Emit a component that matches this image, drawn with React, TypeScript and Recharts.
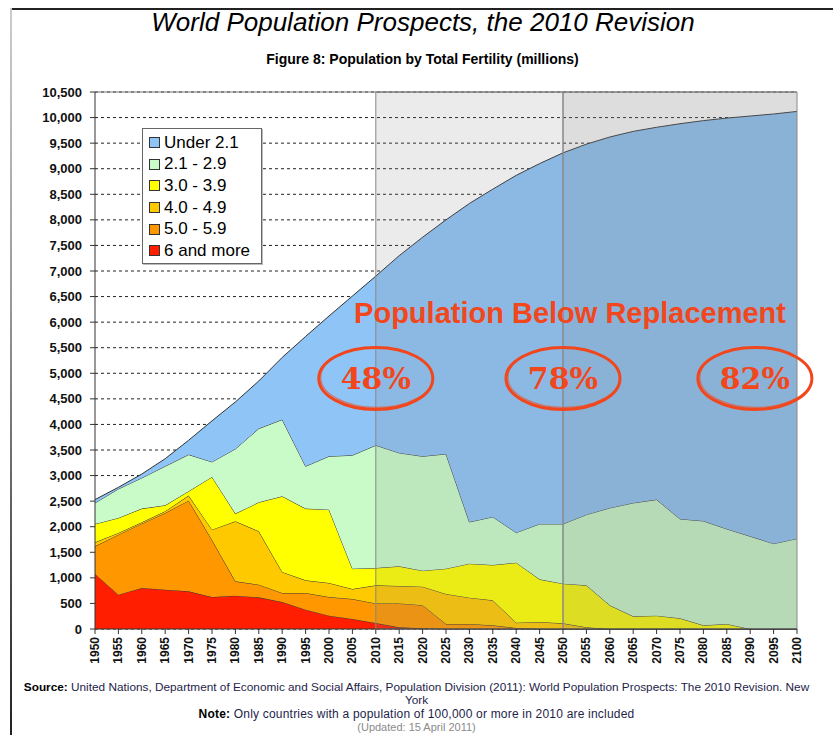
import React from "react";
import {
  AreaChart,
  Area,
  XAxis,
  YAxis,
  CartesianGrid,
  ReferenceArea,
  ReferenceLine,
  ReferenceDot,
  Legend,
} from "recharts";

// Years on the x axis
const years = [
  1950, 1955, 1960, 1965, 1970, 1975, 1980, 1985, 1990, 1995, 2000, 2005,
  2010, 2015, 2020, 2025, 2030, 2035, 2040, 2045, 2050, 2055, 2060, 2065,
  2070, 2075, 2080, 2085, 2090, 2095, 2100,
];

// Population (millions) by total fertility band
const sixAndMore = [
  1076, 672, 802, 769, 737, 626, 652, 619, 528, 378, 261, 196, 117, 33, 15, 0,
  0, 0, 0, 0, 0, 0, 0, 0, 0, 0, 0, 0, 0, 0, 0,
];
const fiveTo59 = [
  541, 1173, 1258, 1500, 1773, 1114, 280, 248, 176, 326, 365, 391, 383, 467,
  451, 98, 98, 72, 20, 0, 0, 0, 0, 0, 0, 0, 0, 0, 0, 0, 0,
];
const fourTo49 = [
  78, 33, 26, 33, 98, 203, 1174, 1043, 411, 248, 274, 195, 354, 341, 362, 587,
  515, 489, 104, 137, 111, 33, 0, 0, 0, 0, 0, 0, 0, 0, 0,
];
const threeTo39 = [
  359, 293, 268, 117, 85, 1030, 150, 568, 1480, 1402, 1434, 398, 339, 385, 313,
  495, 665, 691, 1173, 834, 776, 821, 463, 248, 261, 209, 72, 98, 0, 0, 0,
];
const twoTo29 = [
  411, 567, 600, 763, 717, 294, 1265, 1441, 1500, 828, 1043, 2217, 2399, 2217,
  2236, 2243, 815, 939, 587, 1083, 1167, 1382, 1904, 2217, 2269, 1943, 2040,
  1858, 1813, 1669, 1767,
];
const under21 = [
  65, 32, 76, 148, 280, 803, 919, 931, 1215, 2538, 2743, 3113, 3308, 3857,
  4283, 4577, 6227, 6409, 6986, 7046, 7256, 7244, 7253, 7265, 7280, 7728,
  7828, 8034, 8217, 8401, 8353,
];

const yTicks = [
  0, 500, 1000, 1500, 2000, 2500, 3000, 3500, 4000, 4500, 5000, 5500, 6000,
  6500, 7000, 7500, 8000, 8500, 9000, 9500, 10000, 10500,
];

// Callouts: share of population below replacement
const calloutYears = [2010, 2050, 2091];
const calloutLabels = ["48%", "78%", "82%"];

// stacked bottom to top
const series = [
  { key: "six", name: "6 and more", values: sixAndMore, color: "#FF1E00" },
  { key: "five", name: "5.0 - 5.9", values: fiveTo59, color: "#FF9700" },
  { key: "four", name: "4.0 - 4.9", values: fourTo49, color: "#FFC900" },
  { key: "three", name: "3.0 - 3.9", values: threeTo39, color: "#FFFF00" },
  { key: "two", name: "2.1 - 2.9", values: twoTo29, color: "#C9FBC9" },
  { key: "under", name: "Under 2.1", values: under21, color: "#8EC4F6" },
];

const data = years.map((year, i) => {
  const row: Record<string, number> = { year };
  series.forEach((s) => {
    row[s.key] = s.values[i];
  });
  return row;
});

const ARIAL = "Arial, 'Liberation Sans', sans-serif";
const RED = "#F2461C";

const XTick = (props: any) => {
  const { x, y, payload } = props;
  return (
    <text
      x={x}
      y={y}
      transform={`rotate(-90 ${x} ${y})`}
      textAnchor="end"
      dominantBaseline="central"
      fontFamily={ARIAL}
      fontWeight="bold"
      fontSize={12}
      fill="#111"
    >
      {payload.value}
    </text>
  );
};

const LegendBox = () => (
  <div
    style={{
      background: "#fff",
      border: "1px solid #666",
      boxShadow: "1px 1px 0 #bbb",
      padding: "3px 6px 1px 6px",
      fontFamily: ARIAL,
      fontSize: 17,
      color: "#000",
      width: 106,
    }}
  >
    {[...series].reverse().map((s) => (
      <div
        key={s.key}
        style={{ display: "flex", alignItems: "center", height: 21.6 }}
      >
        <span
          style={{
            display: "inline-block",
            width: 9,
            height: 9,
            background: s.color,
            border: "1px solid #333",
            marginRight: 4,
          }}
        />
        <span>{s.name}</span>
      </div>
    ))}
  </div>
);

const Callout = (label: string) => (props: any) => {
  const { cx, cy } = props;
  return (
    <g>
      <ellipse
        cx={cx}
        cy={cy}
        rx={57}
        ry={31}
        fill="none"
        stroke={RED}
        strokeWidth={3}
      />
      <ellipse
        cx={cx + 1}
        cy={cy - 1}
        rx={56}
        ry={30}
        fill="none"
        stroke={RED}
        strokeWidth={1.2}
        opacity={0.6}
      />
      <text
        x={cx}
        y={cy}
        textAnchor="middle"
        dominantBaseline="central"
        fontFamily="'DejaVu Serif', serif"
        fontWeight="bold"
        fontSize={30}
        fill={RED}
      >
        {label}
      </text>
    </g>
  );
};

const Heading = (props: any) => {
  const { cx, cy } = props;
  return (
    <text
      x={cx}
      y={cy}
      textAnchor="middle"
      dominantBaseline="central"
      fontFamily={ARIAL}
      fontWeight="bold"
      fontSize={29}
      fill={RED}
    >
      Population Below Replacement
    </text>
  );
};

export default function App() {
  return (
    <div
      style={{
        position: "absolute",
        left: 0,
        top: 0,
        width: 833,
        height: 735,
        overflow: "hidden",
        background: "#fff",
      }}
    >
      <AreaChart
        width={833}
        height={735}
        data={data}
        margin={{ top: 92, right: 36, left: 0, bottom: 66 }}
      >
        <CartesianGrid
          horizontal
          vertical={false}
          stroke="#222"
          strokeDasharray="3 3"
        />
        <XAxis
          dataKey="year"
          type="number"
          domain={[1950, 2100]}
          ticks={years}
          interval={0}
          height={40}
          tick={<XTick />}
          tickSize={5}
          tickMargin={3}
          stroke="#333"
        />
        <YAxis
          width={95}
          domain={[0, 10500]}
          ticks={yTicks}
          interval={0}
          tickSize={5}
          tickMargin={8}
          stroke="#333"
          tickFormatter={(v: number) => v.toLocaleString("en-US")}
          tick={{
            fontFamily: ARIAL,
            fontWeight: "bold",
            fontSize: 13,
            fill: "#111",
          }}
        />
        {series.map((s) => (
          <Area
            key={s.key}
            type="linear"
            dataKey={s.key}
            name={s.name}
            stackId="1"
            fill={s.color}
            fillOpacity={1}
            stroke="#333"
            strokeWidth={1}
            isAnimationActive={false}
          />
        ))}
        <ReferenceArea
          x1={2010}
          x2={2050}
          y1={0}
          y2={10500}
          fill="#808080"
          fillOpacity={0.16}
          stroke="#888"
          strokeWidth={1}
          zIndex={450}
        />
        <ReferenceArea
          x1={2050}
          x2={2100}
          y1={0}
          y2={10500}
          fill="#808080"
          fillOpacity={0.27}
          stroke="#888"
          strokeWidth={1}
          zIndex={450}
        />
        <ReferenceLine y={10500} stroke="#777" strokeWidth={1} zIndex={460} />
        <ReferenceDot
          x={2051.5}
          y={6180}
          r={0}
          ifOverflow="visible"
          shape={Heading}
          zIndex={2100}
        />
        {calloutYears.map((yr, i) => (
          <ReferenceDot
            key={yr}
            x={yr}
            y={4900}
            r={0}
            ifOverflow="visible"
            shape={Callout(calloutLabels[i])}
            zIndex={2100}
          />
        ))}
        <Legend
          layout="vertical"
          align="center"
          verticalAlign="middle"
          content={<LegendBox />}
          wrapperStyle={{ position: "absolute", left: 142, top: 128, width: 122 }}
        />
      </AreaChart>

      {/* page border */}
      <div
        style={{
          position: "absolute",
          left: 10,
          top: 8,
          width: 823,
          height: 2,
          background: "#222",
        }}
      />
      <div
        style={{
          position: "absolute",
          left: 10,
          top: 8,
          width: 2,
          height: 727,
          background: "linear-gradient(#ccc, #999 40%, #222)",
        }}
      />

      <div
        style={{
          position: "absolute",
          left: 0,
          top: 7,
          width: 846,
          textAlign: "center",
          fontFamily: ARIAL,
          fontStyle: "italic",
          fontSize: 26,
          color: "#000",
        }}
      >
        World Population Prospects, the 2010 Revision
      </div>
      <div
        style={{
          position: "absolute",
          left: 0,
          top: 51,
          width: 845,
          textAlign: "center",
          fontFamily: ARIAL,
          fontWeight: "bold",
          fontSize: 14,
          color: "#000",
        }}
      >
        Figure 8: Population by Total Fertility (millions)
      </div>

      <div
        style={{
          position: "absolute",
          left: 0,
          top: 681,
          width: 833,
          textAlign: "center",
          whiteSpace: "nowrap",
          fontFamily: ARIAL,
          fontSize: 11.8,
          color: "#1e1e4a",
          lineHeight: "13px",
        }}
      >
        <b style={{ color: "#000" }}>Source:</b> United Nations, Department of
        Economic and Social Affairs, Population Division (2011): World
        Population Prospects: The 2010 Revision. New
        <br />
        York
      </div>
      <div
        style={{
          position: "absolute",
          left: 0,
          top: 707,
          width: 833,
          textAlign: "center",
          fontFamily: ARIAL,
          fontSize: 12,
          letterSpacing: 0.2,
          color: "#1e1e4a",
        }}
      >
        <b style={{ color: "#000" }}>Note:</b> Only countries with a population
        of 100,000 or more in 2010 are included
      </div>
      <div
        style={{
          position: "absolute",
          left: 0,
          top: 721,
          width: 833,
          textAlign: "center",
          fontFamily: ARIAL,
          fontSize: 11,
          color: "#8a8a8a",
        }}
      >
        (Updated: 15 April 2011)
      </div>
    </div>
  );
}
